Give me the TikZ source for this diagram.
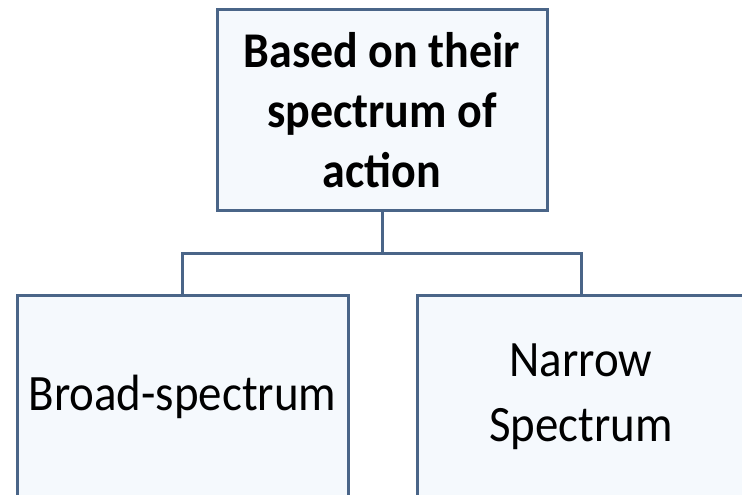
\documentclass[tikz,border=0pt]{standalone}
\usepackage{fontspec}
\setmainfont{Carlito}[FakeStretch=0.92]
\definecolor{edge}{HTML}{4A6588}
\definecolor{boxfill}{HTML}{F5F9FD}
\begin{document}
\begin{tikzpicture}[x=1pt,y=-1pt,
  box/.style={draw=edge, fill=boxfill, line width=3pt, inner sep=0pt, align=center, font=\fontsize{51}{65}\selectfont},
  link/.style={draw=edge, line width=3pt}]
\useasboundingbox (0,0) rectangle (742,495);
\clip (0,0) rectangle (742,495);
\fill[white] (0,0) rectangle (742,495);
\node[box, minimum width=330pt, minimum height=200pt, font=\fontsize{50}{60}\selectfont\bfseries] (top) at (382,110) {Based on their\\spectrum of\\action};
\node[box, minimum width=331pt, minimum height=204pt] (left) at (182.5,397) {Broad-spectrum};
\node[box, minimum width=328pt, minimum height=204pt] (right) at (581,397) {Narrow\\Spectrum};
\coordinate (j) at (382,253);
\draw[link] (top.south) -- (j);
\draw[link] (left.north) |- (j) -| (right.north);
\end{tikzpicture}
\end{document}
